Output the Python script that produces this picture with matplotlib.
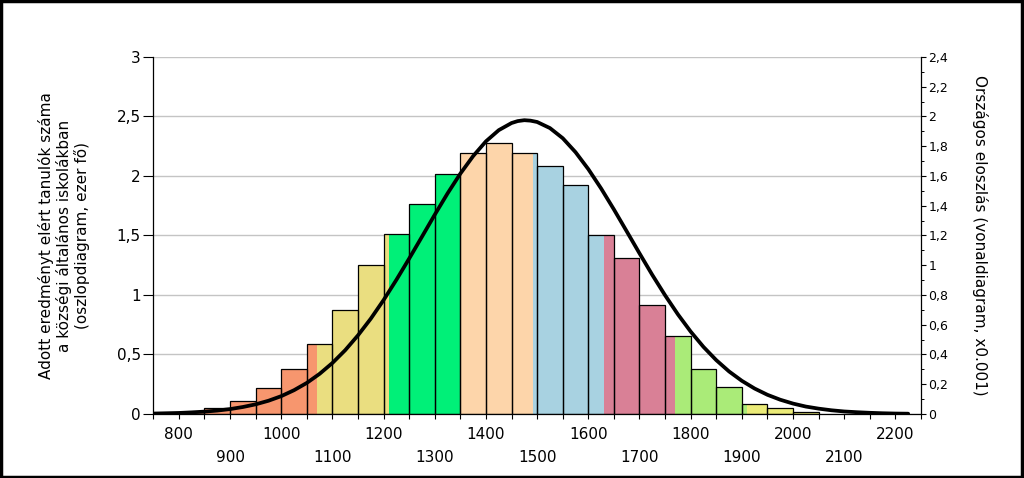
import matplotlib
matplotlib.use("Agg")
import matplotlib.pyplot as plt
from matplotlib.patches import Rectangle
from matplotlib.ticker import MultipleLocator, FixedLocator

plt.rcParams['font.family'] = ['DejaVu Sans']

# ---- data ----
bin_lefts = [800, 850, 900, 950, 1000, 1050, 1100, 1150, 1200, 1250, 1300, 1350,
             1400, 1450, 1500, 1550, 1600, 1650, 1700, 1750, 1800, 1850, 1900,
             1950, 2000]
bin_width = 50
counts = [0.015, 0.05, 0.11, 0.215, 0.377, 0.584, 0.872, 1.255, 1.515, 1.767,
          2.013, 2.195, 2.278, 2.195, 2.088, 1.926, 1.507, 1.314, 0.914, 0.654,
          0.377, 0.224, 0.084, 0.048, 0.017]

# proficiency levels (score ranges) and their colours
level_bounds = [750, 1070, 1211, 1352, 1492, 1631, 1770, 1911, 2250]
level_colors = ['#F7966E', '#EADE80', '#00F078', '#FDD5AA', '#A8D2E1',
                '#D98096', '#AAEB78', '#EBEB78']

# national distribution curve (x0.001)
curve_x = [750, 775, 800, 825, 850, 875, 900, 925, 950, 975, 1000, 1025, 1050,
           1075, 1100, 1125, 1150, 1175, 1200, 1225, 1250, 1275, 1300, 1325,
           1350, 1375, 1400, 1425, 1450, 1462, 1475, 1487, 1500, 1525, 1550,
           1575, 1600, 1625, 1650, 1675, 1700, 1725, 1750, 1775, 1800, 1825,
           1850, 1875, 1900, 1925, 1950, 1975, 2000, 2025, 2050, 2075, 2100,
           2125, 2150, 2175, 2200, 2225]
curve_y = [0.003, 0.005, 0.007, 0.011, 0.016, 0.023, 0.033, 0.047, 0.065, 0.089,
           0.120, 0.160, 0.209, 0.270, 0.343, 0.429, 0.529, 0.641, 0.766, 0.902,
           1.045, 1.192, 1.340, 1.483, 1.616, 1.734, 1.833, 1.908, 1.956, 1.969,
           1.975, 1.972, 1.963, 1.922, 1.854, 1.760, 1.646, 1.516, 1.375, 1.228,
           1.080, 0.935, 0.798, 0.670, 0.554, 0.451, 0.362, 0.286, 0.223, 0.171,
           0.129, 0.096, 0.070, 0.050, 0.036, 0.025, 0.017, 0.012, 0.008, 0.005,
           0.003, 0.002]

x_ticks = [800, 900, 1000, 1100, 1200, 1300, 1400, 1500, 1600, 1700, 1800,
           1900, 2000, 2100, 2200]
x_labels = ['800', '900', '1000', '1100', '1200', '1300', '1400', '1500',
            '1600', '1700', '1800', '1900', '2000', '2100', '2200']
left_ticks = [0, 0.5, 1, 1.5, 2, 2.5, 3]
left_labels = ['0', '0,5', '1', '1,5', '2', '2,5', '3']
right_ticks = [0, 0.2, 0.4, 0.6, 0.8, 1.0, 1.2, 1.4, 1.6, 1.8, 2.0, 2.2, 2.4]
right_labels = ['0', '0,2', '0,4', '0,6', '0,8', '1', '1,2', '1,4', '1,6',
                '1,8', '2', '2,2', '2,4']

left_title = ("Adott eredményt elért tanulók száma\n"
              "a községi általános iskolákban\n"
              "(oszlopdiagram, ezer fő)")
right_title = "Országos eloszlás (vonaldiagram, x0.001)"

# ---- figure ----
fig = plt.figure(figsize=(10.24, 4.78), dpi=100)
ax = fig.add_axes([0.1497, 0.1339, 0.7497, 0.7469])
ax.set_xlim(750, 2250)
ax.set_ylim(0, 3)

# coloured segments of each bar
for left, h in zip(bin_lefts, counts):
    right = left + bin_width
    for lo, hi, c in zip(level_bounds[:-1], level_bounds[1:], level_colors):
        a, b = max(left, lo), min(right, hi)
        if b > a:
            ax.bar(a, h, width=b - a, align='edge', color=c, linewidth=0, zorder=2)
# bar outlines
ax.bar(bin_lefts, counts, width=bin_width, align='edge', fill=False,
       edgecolor='black', linewidth=0.9, zorder=3)

ax.yaxis.set_major_locator(FixedLocator(left_ticks))
ax.set_yticklabels(left_labels, fontsize=11)
ax.grid(axis='y', color='#C4C4C4', linewidth=1.0, zorder=0)
ax.set_axisbelow(True)

ax.xaxis.set_major_locator(FixedLocator(x_ticks))
ax.xaxis.set_minor_locator(MultipleLocator(50))
labels = []
for i, t in enumerate(x_labels):
    labels.append(t if i % 2 == 0 else "\n" + t)
ax.set_xticklabels(labels, fontsize=11)
for lab in ax.get_xticklabels():
    lab.set_linespacing(1.68)

ax.tick_params(axis='x', which='both', direction='out', length=3.5, width=0.8,
               pad=6, colors='black')
ax.tick_params(axis='y', which='major', direction='out', length=7, width=0.8,
               pad=2)
for s in ['top', 'right']:
    ax.spines[s].set_visible(False)
for s in ['left', 'bottom']:
    ax.spines[s].set_linewidth(0.9)

ax.set_ylabel(left_title, fontsize=11, linespacing=1.15, labelpad=19)

ax2 = ax.twinx()
ax2.set_ylim(0, 2.4)
ax2.plot(curve_x, curve_y, color='black', linewidth=2.7, solid_capstyle='round',
         solid_joinstyle='round', zorder=5)
ax2.yaxis.set_major_locator(FixedLocator(right_ticks))
ax2.yaxis.set_minor_locator(MultipleLocator(0.1))
ax2.set_yticklabels(right_labels, fontsize=9)
ax2.tick_params(axis='y', which='major', direction='out', length=3.5, width=0.8,
                pad=2)
ax2.tick_params(axis='y', which='minor', direction='out', length=2.5, width=0.7)
for s in ['top', 'left', 'bottom']:
    ax2.spines[s].set_visible(False)
ax2.spines['right'].set_linewidth(0.9)
ax2.set_ylabel(right_title, fontsize=11, rotation=270, labelpad=28)

# figure frame
fig.patches.append(Rectangle((0.001, 0.002), 0.997, 0.995, transform=fig.transFigure,
                             fill=False, edgecolor='black', linewidth=2.5))

fig.savefig("out.png", dpi=100)
